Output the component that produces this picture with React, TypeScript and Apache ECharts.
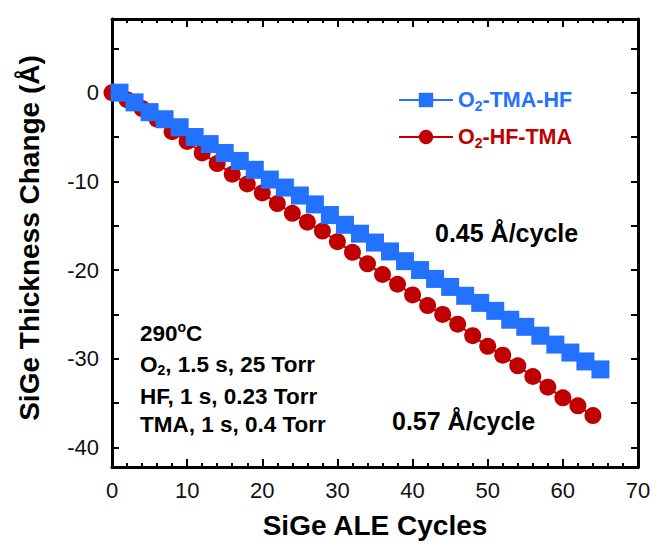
import React, { useEffect, useRef } from "react";
import * as echarts from "echarts";

const blueCycles = [1, 3, 5, 7, 9, 11, 13, 15, 17, 19, 21, 23, 25, 27, 29, 31, 33, 35, 37, 39, 41, 43, 45, 47, 49, 51, 53, 55, 57, 59, 61, 63, 65];
const blueValues = [0, -1.1, -2.2, -3.0, -3.9, -5.0, -5.8, -6.8, -7.7, -8.7, -9.8, -10.7, -11.6, -12.6, -13.8, -14.9, -15.9, -16.9, -17.9, -19.0, -20.0, -21.0, -21.9, -22.9, -23.7, -24.6, -25.6, -26.4, -27.4, -28.4, -29.3, -30.3, -31.2];
const redCycles = [0, 2, 4, 6, 8, 10, 12, 14, 16, 18, 20, 22, 24, 26, 28, 30, 32, 34, 36, 38, 40, 42, 44, 46, 48, 50, 52, 54, 56, 58, 60, 62, 64];
const redValues = [0, -0.8, -1.8, -3.0, -4.4, -5.5, -6.8, -8.0, -9.2, -10.3, -11.3, -12.5, -13.6, -14.6, -15.6, -16.8, -18.0, -19.3, -20.5, -21.6, -22.8, -24.0, -25.0, -26.1, -27.4, -28.6, -29.6, -30.8, -32.0, -33.2, -34.4, -35.3, -36.4];
const yTickValues = [5, 0, -5, -10, -15, -20, -25, -30, -35, -40];
const yLabelValues = [0, -10, -20, -30, -40];

const BLUE = "#2271ff";
const RED = "#c00000";
const FONT = "'Liberation Sans', Arial, sans-serif";

export default function App() {
  const ref = useRef<HTMLDivElement>(null);
  useEffect(() => {
    const chart = echarts.init(ref.current!, null, { renderer: "svg" });
    const axisLine = { show: true, onZero: false, lineStyle: { color: "#000", width: 3 } };
    const tickStyle = { width: 2, color: "#000" };
    const bold = (fontSize: number) => ({ fontSize, fontWeight: "bold", fontFamily: FONT, fill: "#000" });
    const option: any = {
      animation: false,
      backgroundColor: "#fff",
      grid: { left: 112, right: 26, top: 19, bottom: 79 },
      xAxis: [
        {
          type: "value", min: 0, max: 70, interval: 10,
          axisLine, splitLine: { show: false },
          axisTick: { inside: true, length: 8, lineStyle: tickStyle },
          minorTick: { show: true, splitNumber: 5, length: 4, lineStyle: tickStyle },
          axisLabel: { fontSize: 22, color: "#111", fontFamily: FONT, margin: 12 },
        },
        {
          type: "value", position: "top", min: 0, max: 70, interval: 10,
          axisLine, splitLine: { show: false },
          axisTick: { inside: true, length: 8, lineStyle: tickStyle },
          minorTick: { show: true, splitNumber: 5, length: 4, lineStyle: tickStyle },
          axisLabel: { show: false },
        },
      ],
      yAxis: [
        {
          type: "value", min: -42.2, max: 8.3,
          axisLine, splitLine: { show: false },
          axisTick: { inside: true, length: 7, customValues: yTickValues, lineStyle: tickStyle },
          axisLabel: { fontSize: 22, color: "#111", fontFamily: FONT, margin: 13, customValues: yLabelValues },
        },
        {
          type: "value", position: "right", min: -42.2, max: 8.3,
          axisLine, splitLine: { show: false },
          axisTick: { inside: true, length: 7, customValues: yTickValues, lineStyle: tickStyle },
          axisLabel: { show: false, customValues: yLabelValues },
        },
      ],
      legend: {
        orient: "vertical",
        left: 398,
        top: 89,
        padding: 0,
        itemWidth: 54,
        itemHeight: 18,
        itemGap: 13,
        data: ["O2-TMA-HF", "O2-HF-TMA"],
        formatter: (name: string) =>
          name === "O2-TMA-HF" ? "{b|O}{bs|2}{b|-TMA-HF}" : "{r|O}{rs|2}{r|-HF-TMA}",
        textStyle: {
          fontFamily: FONT,
          rich: {
            b: { color: BLUE, fontSize: 21.5, fontWeight: "bold", fontFamily: FONT },
            bs: { color: BLUE, fontSize: 14, fontWeight: "bold", fontFamily: FONT, padding: [12, 0, 0, 0] },
            r: { color: RED, fontSize: 21.5, fontWeight: "bold", fontFamily: FONT },
            rs: { color: RED, fontSize: 14, fontWeight: "bold", fontFamily: FONT, padding: [12, 0, 0, 0] },
          },
        },
      },
      series: [
        {
          name: "O2-HF-TMA", type: "line",
          data: redCycles.map((c, i) => [c, redValues[i]]),
          symbol: "circle", symbolSize: 17,
          itemStyle: { color: RED }, lineStyle: { color: RED, width: 2 },
        },
        {
          name: "O2-TMA-HF", type: "line",
          data: blueCycles.map((c, i) => [c, blueValues[i]]),
          symbol: "rect", symbolSize: 18,
          itemStyle: { color: BLUE }, lineStyle: { color: BLUE, width: 2 },
        },
      ],
      graphic: [
        {
          type: "text", x: 435, y: 233,
          style: { text: "0.45 Å/cycle", ...bold(25), verticalAlign: "middle" },
        },
        {
          type: "text", x: 392, y: 421,
          style: { text: "0.57 Å/cycle", ...bold(25), verticalAlign: "middle" },
        },
        {
          type: "text", x: 140, y: 333,
          style: {
            text: "290{sup|o}C", ...bold(22.5), verticalAlign: "middle",
            rich: { sup: { fontSize: 14, fontWeight: "bold", fontFamily: FONT, padding: [0, 0, 12, 0] } },
          },
        },
        {
          type: "text", x: 140, y: 364,
          style: {
            text: "O{sub|2}, 1.5 s, 25 Torr", ...bold(22.5), verticalAlign: "middle",
            rich: { sub: { fontSize: 14, fontWeight: "bold", fontFamily: FONT, padding: [12, 0, 0, 0] } },
          },
        },
        {
          type: "text", x: 140, y: 396,
          style: { text: "HF, 1 s, 0.23 Torr", ...bold(22.5), verticalAlign: "middle" },
        },
        {
          type: "text", x: 140, y: 424,
          style: { text: "TMA, 1 s, 0.4 Torr", ...bold(22.5), verticalAlign: "middle" },
        },
        {
          type: "text", x: 375, y: 525,
          style: { text: "SiGe ALE Cycles", ...bold(28), align: "center", verticalAlign: "middle" },
        },
        {
          type: "text", x: 29, y: 238, rotation: Math.PI / 2,
          style: { text: "SiGe Thickness Change (Å)", ...bold(28), align: "center", verticalAlign: "middle" },
        },
      ],
    };
    chart.setOption(option);
    return () => chart.dispose();
  }, []);
  return <div ref={ref} style={{ position: "fixed", left: 0, top: 0, width: 664, height: 546 }} />;
}
